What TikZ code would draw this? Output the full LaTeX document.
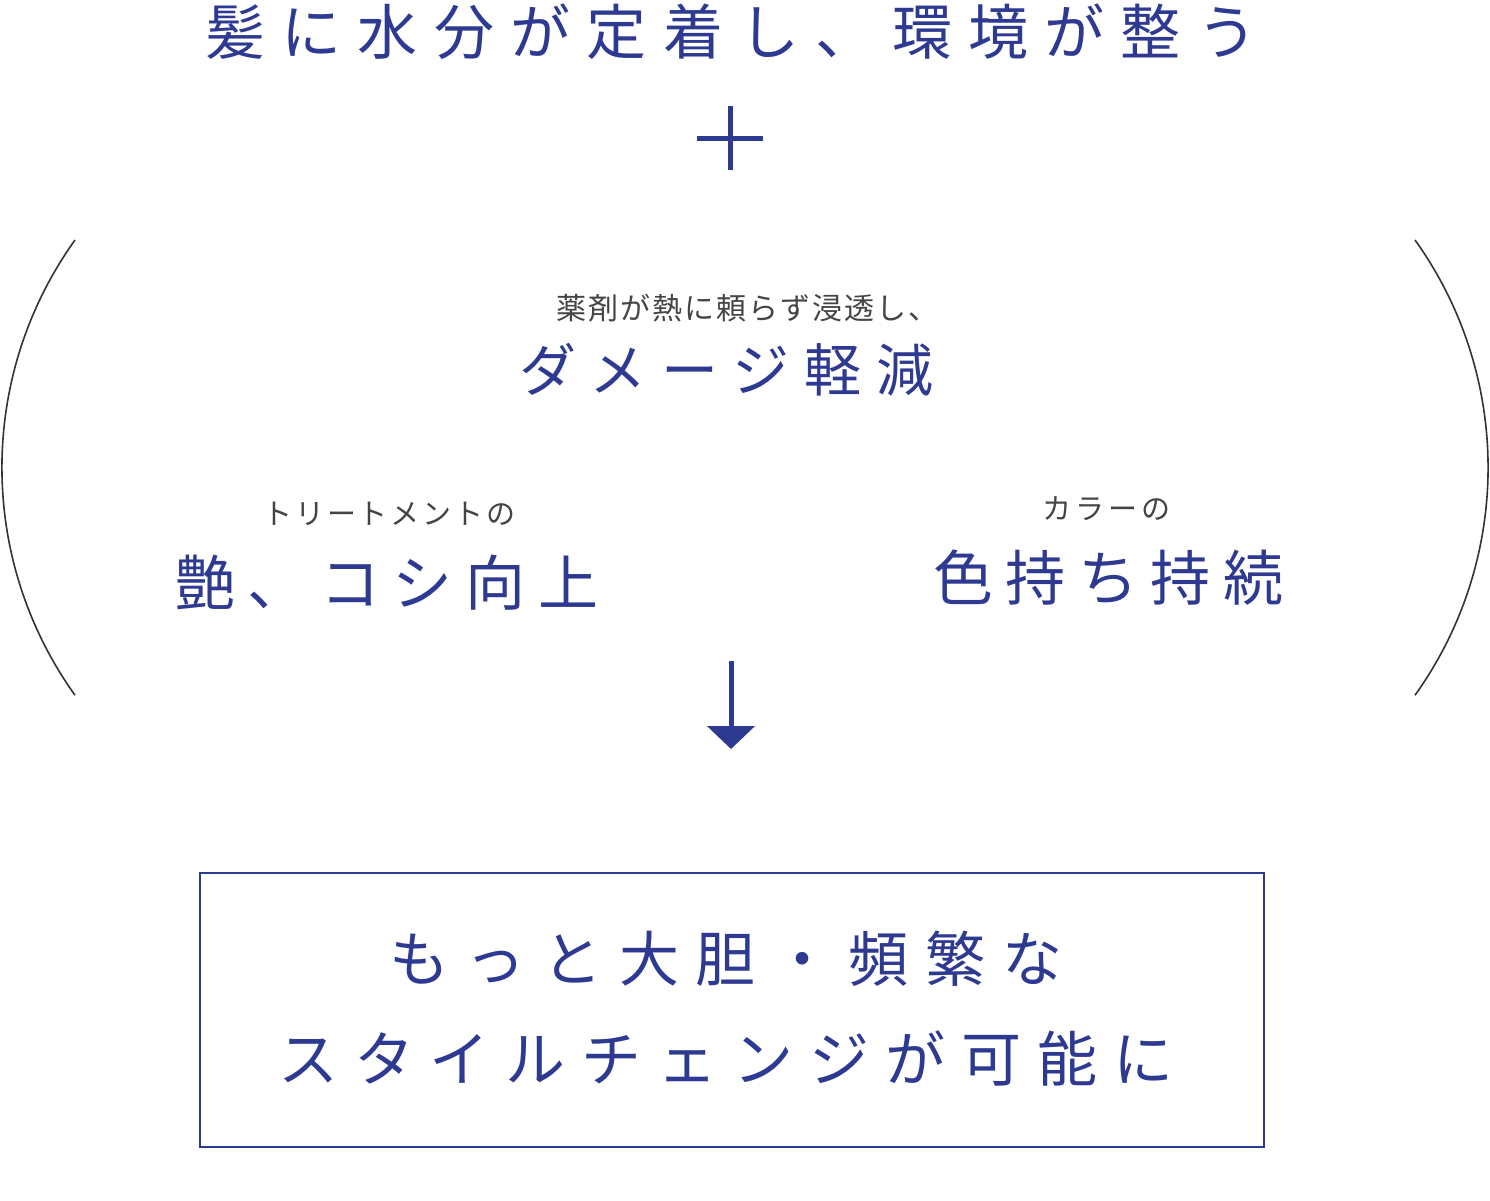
\documentclass[tikz,border=0pt]{standalone}
\usepackage{fontspec}
\usetikzlibrary{arrows.meta}
\newfontfamily\jp{Noto Sans CJK JP}
\definecolor{navy}{RGB}{46,58,146}
\definecolor{txtgray}{RGB}{68,68,68}
\definecolor{paren}{RGB}{51,51,51}
\newcommand{\jpsz}[2]{\jp\fontsize{#1}{#1}\selectfont\addfontfeature{LetterSpace=#2}}
\tikzset{
  jt/.style={inner sep=0pt, anchor=base west},
  bigtxt/.style={jt, text=navy},
  smalltxt/.style={jt, text=txtgray},
  parenline/.style={draw=paren, line width=1.6pt},
}
\begin{document}
\begin{tikzpicture}[x=1pt,y=-1pt]
\useasboundingbox (0,0) rectangle (1490,1200);
\fill[white] (0,0) rectangle (1490,1200);

% title
\node[bigtxt] (title) at (205,54) {\jpsz{60pt}{27.2}髪に水分が定着し、環境が整う};

% plus
\coordinate (pl) at (697,138);
\coordinate (pr) at (763,138);
\coordinate (pt) at (730,106);
\coordinate (pb) at (730,170);
\draw[navy, line width=5pt] (pl) -- (pr);
\draw[navy, line width=5pt] (pt) -- (pb);

% parentheses
\coordinate (lt) at (75,240);
\coordinate (rt) at (1415,240);
\draw[parenline] (lt) arc[start angle=215.6, end angle=144.4, radius=391];
\draw[parenline] (rt) arc[start angle=-35.6, end angle=35.6, radius=391];

% middle texts
\node[smalltxt] (sub1) at (556,319) {\jpsz{30pt}{7}薬剤が熱に頼らず浸透し、};
\node[bigtxt] (main1) at (519,391) {\jpsz{57pt}{26.5}ダメージ軽減};

\node[smalltxt] (sub2) at (263,524) {\jpsz{29pt}{10}トリートメントの};
\node[bigtxt] (main2) at (175,605) {\jpsz{60pt}{21}艶、コシ向上};

\node[smalltxt] (sub3) at (1042,519) {\jpsz{29pt}{14}カラーの};
\node[bigtxt] (main3) at (933,600) {\jpsz{60pt}{21}色持ち持続};

% arrow
\coordinate (at) at (731,661);
\coordinate (ab) at (731,749);
\draw[navy, line width=5pt, -{Triangle[width=47pt,length=23pt]}] (at) -- (ab);

% result box
\node[draw=navy, line width=1.8pt, minimum width=1064pt, minimum height=274pt, inner sep=0pt, anchor=north west] (box) at (199,872) {};
\node[bigtxt] (res1) at (389,981) {\jpsz{60pt}{27.7}もっと大胆・頻繁な};
\node[bigtxt] (res2) at (278,1081) {\jpsz{60pt}{26.5}スタイルチェンジが可能に};
\end{tikzpicture}
\end{document}
